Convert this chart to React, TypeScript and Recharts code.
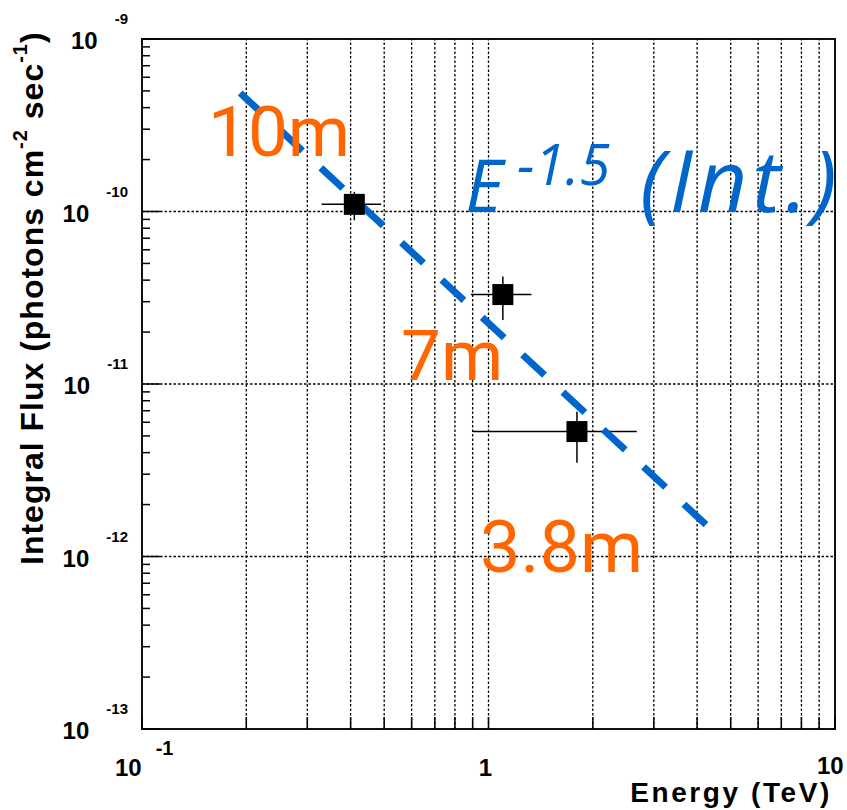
import { ComposedChart, ErrorBar, ReferenceArea, ReferenceLine, Scatter, XAxis, YAxis } from "recharts";

// measured points (TeV, photons cm^-2 s^-1)
const energy = [0.41, 1.1, 1.8];
const flux = [1.1e-10, 3.3e-11, 5.3e-12];
const energyLow = [0.33, 0.89, 0.9];
const energyHigh = [0.49, 1.33, 2.68];
const fluxLow = [8.9e-11, 2.35e-11, 3.5e-12];
const fluxHigh = [1.3e-10, 4.2e-11, 6.9e-12];

// dashed E^-1.5 line end points
const fitEnergy = [0.192, 4.5];
const fitFlux = [4.86e-10, 1.37e-12];

// axes
const xDecades = [0.1, 1, 10];
const xLabelBase = ["10", "1", "10"];
const xLabelExp = ["-1", "", ""];
const yExponents = [-13, -12, -11, -10, -9];
const minorSteps = [2, 3, 4, 5, 6, 7, 8, 9];

const BLUE = "#0066cc";
const ORANGE = "#ff6600";
const TICK_FONT = "'Liberation Sans', Arial, sans-serif";

const points = energy.map((e, i) => ({
  energy: e,
  flux: flux[i],
  xErr: [e - energyLow[i], energyHigh[i] - e],
  yErr: [flux[i] - fluxLow[i], fluxHigh[i] - flux[i]],
}));

const fitLine = fitEnergy.map((e, i) => ({ energy: e, flux: fitFlux[i] }));

const xMinor = xDecades.slice(0, -1).flatMap((d) => minorSteps.map((m) => m * d));
const xTicks = [...xDecades, ...xMinor].sort((a, b) => a - b);
const yDecades = yExponents.map((p) => Math.pow(10, p));
const yMinor = yDecades.slice(0, -1).flatMap((d) => minorSteps.map((m) => m * d));
const yTicks = [...yDecades, ...yMinor].sort((a, b) => a - b);

const XTick = (props: any) => {
  const { x, y, payload } = props;
  const idx = xDecades.findIndex((d) => Math.abs(d - payload.value) < 1e-9);
  return (
    <g>
      <line x1={x} y1={y} x2={x} y2={y - 12} stroke="#000" strokeWidth={1.5} />
      {idx === 0 && (
        <text x={x - 27} y={y + 47} fontFamily={TICK_FONT} fontWeight="bold" fontSize={24} fill="#000">
          {xLabelBase[idx]}
          <tspan dx={14} dy={-21} fontSize={20}>{xLabelExp[idx]}</tspan>
        </text>
      )}
      {idx === 1 && (
        <text x={x - 3} y={y + 47} textAnchor="middle" fontFamily={TICK_FONT} fontWeight="bold" fontSize={24} fill="#000">
          {xLabelBase[idx]}
        </text>
      )}
      {idx === 2 && (
        <text x={x - 18} y={y + 45} fontFamily={TICK_FONT} fontWeight="bold" fontSize={24} fill="#000">
          {xLabelBase[idx]}
        </text>
      )}
    </g>
  );
};

const YTick = (props: any) => {
  const { x, y, payload } = props;
  const exp = Math.log10(payload.value);
  const major = Math.abs(exp - Math.round(exp)) < 1e-6;
  return (
    <g>
      <line x1={x} y1={y} x2={x + (major ? 18 : 8)} y2={y} stroke="#000" strokeWidth={1.5} />
      {major && (
        <text x={128} y={y + 10} textAnchor="end" fontFamily={TICK_FONT} fontWeight="bold" fontSize={24} fill="#000">
          10
          <tspan dx={17} dy={-25} fontSize={15}>{String(Math.round(exp))}</tspan>
        </text>
      )}
    </g>
  );
};

const Square = (props: any) => {
  const { cx, cy } = props;
  return <rect x={cx - 10.5} y={cy - 10.5} width={21} height={21} fill="#000" />;
};

const App = () => {
  return (
    <div style={{ position: "absolute", left: 0, top: 0, width: 847, height: 810, background: "#fff" }}>
      <ComposedChart width={847} height={810} margin={{ top: 39, right: 12, bottom: 0, left: 0 }}>
        <XAxis
          type="number"
          dataKey="energy"
          scale="log"
          domain={[0.1, 10]}
          allowDataOverflow
          ticks={xTicks}
          interval={0}
          tick={<XTick />}
          tickLine={false}
          axisLine={false}
          tickSize={0}
          tickMargin={0}
          height={81}
        />
        <YAxis
          type="number"
          dataKey="flux"
          scale="log"
          domain={[1e-13, 1e-9]}
          allowDataOverflow
          ticks={yTicks}
          interval={0}
          tick={<YTick />}
          tickLine={false}
          axisLine={false}
          tickSize={0}
          tickMargin={0}
          width={142}
        />
        {xMinor.concat([1]).map((v) => (
          <ReferenceLine key={`gx-${v}`} x={v} stroke="#000" strokeWidth={1.3} strokeDasharray="2.5 2" />
        ))}
        {yDecades.slice(1, -1).map((v) => (
          <ReferenceLine key={`gy-${v}`} y={v} stroke="#000" strokeWidth={1.3} strokeDasharray="2.5 2" />
        ))}
        <ReferenceArea x1={0.1} x2={10} y1={1e-13} y2={1e-9} fill="none" stroke="#111" strokeWidth={2} />
        <Scatter
          data={fitLine}
          isAnimationActive={false}
          line={{ stroke: BLUE, strokeWidth: 7, strokeDasharray: "30 25" }}
          lineType="joint"
          shape={() => <g />}
        />
        <Scatter data={points} isAnimationActive={false} shape={<Square />}>
          <ErrorBar dataKey="xErr" direction="x" width={0} stroke="#000" strokeWidth={1.5} isAnimationActive={false} />
          <ErrorBar dataKey="yErr" direction="y" width={0} stroke="#000" strokeWidth={1.5} isAnimationActive={false} />
        </Scatter>
      </ComposedChart>
      <svg width={847} height={810} style={{ position: "absolute", left: 0, top: 0, pointerEvents: "none" }}>
        <text
          transform="translate(43,565) rotate(-90)"
          fontFamily={TICK_FONT}
          fontWeight="bold"
          fontSize={32}
          letterSpacing={1}
          fill="#000"
        >
          Integral Flux (photons cm
          <tspan dy={-16} fontSize={20}>-2</tspan>
          <tspan dy={16}> sec</tspan>
          <tspan dy={-16} fontSize={20}>-1</tspan>
          <tspan dy={16}>)</tspan>
        </text>
        <text x={832} y={802} textAnchor="end" fontFamily={TICK_FONT} fontWeight="bold" fontSize={28} letterSpacing={2.6} fill="#000">
          Energy (TeV)
        </text>
        <text x={208} y={156} fontFamily="Roboto" fontSize={71} fill={ORANGE}>10m</text>
        <text x={401} y={380} fontFamily="Roboto" fontSize={71} fill={ORANGE}>7m</text>
        <text x={480} y={572} fontFamily="Roboto" fontSize={72} fill={ORANGE}>3.8m</text>
        <text x={465} y={212} fontFamily="'Open Sans'" fontStyle="italic" fontSize={74} fill={BLUE}>E</text>
        <text x={517} y={185} fontFamily="'Open Sans'" fontStyle="italic" fontSize={56} fill={BLUE}>-1.5</text>
        <text x={640} y={212} fontFamily="'Open Sans'" fontStyle="italic" fontSize={86} letterSpacing={5} fill={BLUE}>(Int.)</text>
      </svg>
    </div>
  );
};

export default App;
